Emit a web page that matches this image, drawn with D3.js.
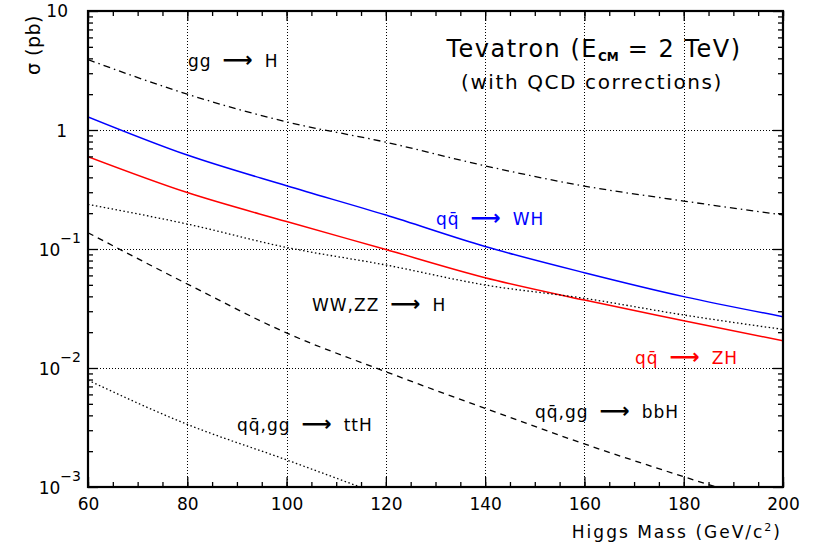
<!DOCTYPE html>
<html><head><meta charset="utf-8">
<script src="https://cdn.jsdelivr.net/npm/d3@7"></script>
<style>body{margin:0;background:#fff}svg{display:block}text{font-family:"DejaVu Sans",sans-serif;fill:#000}</style>
</head><body>
<script>
// ---- data ----
const masses = [60, 80, 100, 120, 140, 160, 180, 200];
const ggH   = [3.9, 2.0, 1.17, 0.79, 0.50, 0.338, 0.253, 0.193];
const qqWH  = [1.29, 0.616, 0.34, 0.193, 0.105, 0.0632, 0.0398, 0.027];
const qqZH  = [0.597, 0.298, 0.17, 0.099, 0.0574, 0.0372, 0.025, 0.0169];
const wwzzH = [0.237, 0.162, 0.103, 0.0734, 0.0498, 0.0385, 0.0279, 0.0211];
const bbH   = [0.137, 0.0508, 0.0197, 0.0093, 0.00458, 0.0023, 0.00122, 0.00067];
const ttHMasses = [60, 80, 100, 120];
const ttH   = [0.0079, 0.00336, 0.00169, 0.00083];
const xMajorTicks = [60, 80, 100, 120, 140, 160, 180, 200];
const yDecades = [1e-3, 1e-2, 1e-1, 1, 10];
const yExponents = [-3, -2, -1, 0, 1];

const W = 817, H = 546;
const svg = d3.select("body").append("svg").attr("width", W).attr("height", H);
svg.append("rect").attr("width", W).attr("height", H).attr("fill", "#fff");

const x = d3.scaleLinear().domain([60, 200]).range([88, 783]);
const y = d3.scaleLog().domain([1e-3, 10]).range([487, 11]);

svg.append("clipPath").attr("id", "clip").append("rect")
  .attr("x", 88).attr("y", 11).attr("width", 783 - 88).attr("height", 487 - 11);

// grid
const grid = svg.append("g").attr("stroke", "#000").attr("stroke-width", 1).attr("stroke-dasharray", "1,2");
xMajorTicks.slice(1, -1).forEach(v => grid.append("line")
  .attr("x1", Math.round(x(v)) + 0.5).attr("x2", Math.round(x(v)) + 0.5).attr("y1", 11).attr("y2", 487));
yDecades.slice(1, -1).forEach(v => grid.append("line")
  .attr("y1", Math.round(y(v)) + 0.5).attr("y2", Math.round(y(v)) + 0.5).attr("x1", 88).attr("x2", 783));

// curves
const plot = svg.append("g").attr("clip-path", "url(#clip)");
const line = d3.line().x(d => x(d[0])).y(d => y(d[1])).curve(d3.curveMonotoneX);
function draw(xs, ys, color, dash, w) {
  plot.append("path").datum(xs.map((m, i) => [m, ys[i]]))
    .attr("d", line).attr("fill", "none").attr("stroke", color)
    .attr("stroke-width", w).attr("stroke-dasharray", dash);
}
draw(masses, ggH, "#000", "7,4,1.5,4", 1.3);
draw(masses, qqWH, "#0000ff", null, 1.5);
draw(masses, qqZH, "#ff0000", null, 1.5);
draw(masses, wwzzH, "#000", "1.5,2.5", 1.3);
draw(masses, bbH, "#000", "6,5", 1.3);
draw(ttHMasses, ttH, "#000", "1.5,2.5", 1.3);

// axes (inward ticks)
const fs = 17;
const minorX = d3.range(60, 201, 5);
svg.append("g").attr("transform", "translate(0,487)")
  .call(d3.axisBottom(x).tickValues(minorX).tickSize(-5).tickFormat(""))
  .call(g => g.select(".domain").remove());
svg.append("g").attr("transform", "translate(0,11)")
  .call(d3.axisTop(x).tickValues(minorX).tickSize(-5).tickFormat(""))
  .call(g => g.select(".domain").remove());
svg.append("g").attr("transform", "translate(0,487)")
  .call(d3.axisBottom(x).tickValues(xMajorTicks).tickSize(-10).tickPadding(11).tickFormat(d3.format("d")))
  .call(g => g.select(".domain").remove())
  .call(g => g.selectAll("text").attr("font-size", fs).attr("font-family", "DejaVu Sans"));
svg.append("g").attr("transform", "translate(0,11)")
  .call(d3.axisTop(x).tickValues(xMajorTicks).tickSize(-10).tickFormat(""))
  .call(g => g.select(".domain").remove());

const yMinor = y.ticks().filter(v => !yDecades.some(d => Math.abs(d - v) / v < 1e-6));
svg.append("g").attr("transform", "translate(88,0)")
  .call(d3.axisLeft(y).tickValues(yMinor).tickSize(-5).tickFormat(""))
  .call(g => g.select(".domain").remove());
svg.append("g").attr("transform", "translate(783,0)")
  .call(d3.axisRight(y).tickValues(yMinor).tickSize(-5).tickFormat(""))
  .call(g => g.select(".domain").remove());
svg.append("g").attr("transform", "translate(88,0)")
  .call(d3.axisLeft(y).tickValues(yDecades).tickSize(-10).tickFormat(""))
  .call(g => g.select(".domain").remove());
svg.append("g").attr("transform", "translate(783,0)")
  .call(d3.axisRight(y).tickValues(yDecades).tickSize(-10).tickFormat(""))
  .call(g => g.select(".domain").remove());
svg.selectAll(".tick line").attr("stroke-width", 1.3);

// y labels
yDecades.forEach((v, i) => {
  const e = yExponents[i];
  const yy = y(v);
  if (e === 0 || e === 1) {
    svg.append("text").attr("x", e === 0 ? 67 : 68).attr("y", yy + (e === 1 ? 6 : 7))
      .attr("text-anchor", "end").attr("font-size", fs).text(e === 0 ? "1" : "10");
  } else {
    const t = svg.append("text").attr("x", 81).attr("y", yy + 7).attr("text-anchor", "end").attr("font-size", fs);
    t.append("tspan").text("10");
    t.append("tspan").attr("dy", -13).attr("font-size", 14).text("\u2212" + Math.abs(e));
  }
});

// frame
svg.append("rect").attr("x", 88).attr("y", 11).attr("width", 783 - 88).attr("height", 487 - 11)
  .attr("fill", "none").attr("stroke", "#000").attr("stroke-width", 2.2);

// axis titles
svg.append("text").attr("x", 782).attr("y", 538).attr("text-anchor", "end").attr("font-size", fs)
  .attr("letter-spacing", 2)
  .html("Higgs Mass (GeV/c<tspan dy='-7' font-size='11'>2</tspan><tspan dy='7'>)</tspan>");
svg.append("text").attr("transform", "translate(40,15) rotate(-90)").attr("text-anchor", "end")
  .attr("font-size", 19).attr("letter-spacing", 0.5).text("\u03c3 (pb)");

// titles
const t1 = svg.append("text").attr("x", 594).attr("y", 57).attr("text-anchor", "middle")
  .attr("font-size", 24).attr("letter-spacing", 1.5);
t1.append("tspan").text("Tevatron (E");
t1.append("tspan").attr("dy", 4).attr("font-size", 12).attr("font-weight", "bold").attr("letter-spacing", 0).text("CM");
t1.append("tspan").attr("dy", -4).text(" = 2 TeV)");
svg.append("text").attr("x", 592).attr("y", 89).attr("text-anchor", "middle").attr("font-size", 20)
  .attr("letter-spacing", 1.6).text("(with QCD corrections)");

// process labels
const qq = "q\u0071\u0304";
const arrow = "\u27f6";
const labels = [
  {pre: "gg", post: "H", x: 188, y: 67, c: "#000"},
  {pre: qq, post: "WH", x: 436, y: 225, c: "#0000ff"},
  {pre: qq, post: "ZH", x: 635, y: 364, c: "#ff0000"},
  {pre: "WW,ZZ", post: "H", x: 312, y: 311, c: "#000"},
  {pre: qq + ",gg", post: "ttH", x: 237, y: 431, c: "#000"},
  {pre: qq + ",gg", post: "bbH", x: 535, y: 418, c: "#000"}
];
labels.forEach(l => {
  const t = svg.append("text").attr("x", l.x).attr("y", l.y).attr("font-size", fs)
    .attr("letter-spacing", 1).style("fill", l.c);
  t.append("tspan").text(l.pre);
  t.append("tspan").attr("dx", 11).attr("font-size", 21).attr("font-weight", "bold").text(arrow);
  t.append("tspan").attr("dx", 11).text(l.post);
});
</script>
</body></html>
